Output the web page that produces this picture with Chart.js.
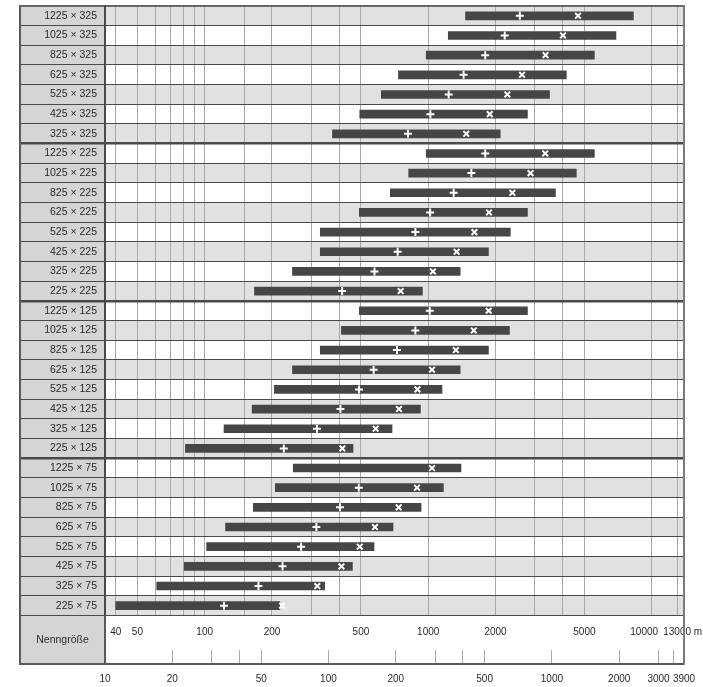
<!DOCTYPE html>
<html>
<head>
<meta charset="utf-8">
<script src="https://cdn.jsdelivr.net/npm/chart.js@4/dist/chart.umd.min.js"></script>
<style>
  html, body { margin: 0; padding: 0; background: #fff; }
  canvas { display: block; }
</style>
</head>
<body>
<canvas id="c" width="703" height="687"></canvas>
<script>
// Rows: cross-section (width × height), top to bottom
const rowLabels = [
  '1225 × 325', '1025 × 325', '825 × 325', '625 × 325', '525 × 325', '425 × 325', '325 × 325',
  '1225 × 225', '1025 × 225', '825 × 225', '625 × 225', '525 × 225', '425 × 225', '325 × 225', '225 × 225',
  '1225 × 125', '1025 × 125', '825 × 125', '625 × 125', '525 × 125', '425 × 125', '325 × 125', '225 × 125',
  '1225 × 75', '1025 × 75', '825 × 75', '625 × 75', '525 × 75', '425 × 75', '325 × 75', '225 × 75'
];
// first row of each height group (thicker separator above it)
const groupStarts = [7, 15, 23];

// range of each row (Nenngröße, m)
const rangeStart = [
  1470, 1230, 980, 736, 617, 494, 373,
  980, 818, 677, 492, 329, 329, 247, 167,
  492, 409, 329, 247, 205, 163, 122, 82,
  249, 207, 165, 124, 102, 81, 61, 40
];
const rangeEnd = [
  8280, 6920, 5540, 4150, 3490, 2780, 2100,
  5540, 4600, 3710, 2780, 2330, 1860, 1390, 942,
  2780, 2310, 1860, 1390, 1153, 923, 689, 461,
  1402, 1169, 929, 696, 572, 458, 344, 217
];
// "+" marker values
const plusValues = [
  2570, 2200, 1800, 1440, 1235, 1023, 812,
  1800, 1560, 1300, 1020, 876, 730, 575, 412,
  1016, 876, 725, 570, 490, 405, 318, 226,
  null, 489, 403, 316, 270, 223, 174, 122
];
// "×" marker values
const crossValues = [
  4680, 4010, 3350, 2630, 2260, 1885, 1480,
  3340, 2870, 2380, 1870, 1610, 1340, 1050, 753,
  1865, 1600, 1330, 1040, 895, 740, 582, 413,
  1040, 891, 738, 578, 494, 409, 319, 222
];

// upper scale (Nenngröße, m)
const topMin = 35.8, topMax = 13950;
const topGrid = [40, 50, 60, 70, 80, 90, 100, 150, 200, 300, 400, 500, 1000, 2000, 3000, 4000, 5000, 10000, 13000];
const topLabels = [40, 50, 100, 200, 500, 1000, 2000, 5000, 10000, 13000];
// lower scale
const bottomMin = 10, bottomMax = 3900;
const bottomGrid = [10, 20, 30, 40, 50, 100, 200, 300, 400, 500, 1000, 2000, 3000, 3500, 3900];
const bottomLabels = [10, 20, 50, 100, 200, 500, 1000, 2000, 3000, 3900];

const FONT = 'Liberation Sans, Arial, Helvetica, sans-serif';
Chart.defaults.font.family = FONT;
Chart.defaults.font.size = 10.5;
Chart.defaults.color = '#2a2a2a';

const FRAME = { left: 20, bottom: 664 };

// keep the plot area fixed: no extra room reserved for edge labels
const noEdgePadding = s => {
  s.paddingLeft = 0; s.paddingRight = 0; s.paddingTop = 0; s.paddingBottom = 0;
};

// row shading and label column, drawn underneath the grid
const backdrop = {
  id: 'backdrop',
  beforeDraw(chart) {
    const { ctx, chartArea: ca, scales: { y } } = chart;
    const rowH = (y.bottom - y.top) / rowLabels.length;
    ctx.save();
    ctx.fillStyle = '#d5d5d5';
    ctx.fillRect(FRAME.left, ca.top, ca.left - FRAME.left, FRAME.bottom - ca.top);
    ctx.fillStyle = '#e1e1e1';
    rowLabels.forEach((_, i) => {
      if (i % 2 === 0) {
        const c = y.getPixelForValue(i);
        ctx.fillRect(ca.left, c - rowH / 2, ca.right - ca.left, rowH);
      }
    });
    ctx.restore();
  },
  afterDraw(chart) {
    const { ctx, chartArea: ca, scales: { x } } = chart;
    ctx.save();
    // outer frame and the header cell divider
    ctx.strokeStyle = '#5a5a5a';
    ctx.lineWidth = 2;
    ctx.beginPath();
    ctx.moveTo(FRAME.left, ca.top - 1);
    ctx.lineTo(FRAME.left, FRAME.bottom);
    ctx.lineTo(ca.right, FRAME.bottom);
    ctx.moveTo(ca.left, ca.bottom);
    ctx.lineTo(ca.left, FRAME.bottom);
    ctx.stroke();
    ctx.strokeStyle = '#7a7a7a';
    ctx.beginPath();
    ctx.moveTo(ca.right, ca.top - 1);
    ctx.lineTo(ca.right, FRAME.bottom + 1);
    ctx.stroke();
    // header cell text
    ctx.font = '10.5px ' + FONT;
    ctx.fillStyle = '#2a2a2a';
    ctx.textAlign = 'center';
    ctx.textBaseline = 'middle';
    ctx.fillText('Nenngröße', (FRAME.left + ca.left) / 2, (ca.bottom + FRAME.bottom) / 2);
    // unit after the last upper label
    const item = x.getLabelItems().find(it => it.label === '13000');
    if (item) {
      const [tx, ty] = item.options.translation;
      ctx.font = '10px ' + FONT;
      ctx.textAlign = 'left';
      ctx.textBaseline = item.options.textBaseline;
      const w = ctx.measureText('13000').width / 2 + ctx.measureText(' ').width;
      ctx.fillText('m', tx + w, ty + (item.textOffset || 0));
    }
    ctx.restore();
  }
};

const toPoints = vals => vals
  .map((v, i) => (v == null ? null : { x: v, y: rowLabels[i] }))
  .filter(Boolean);

new Chart(document.getElementById('c'), {
  data: {
    labels: rowLabels,
    datasets: [
      {
        type: 'scatter', order: 0, xAxisID: 'x', yAxisID: 'y',
        data: toPoints(plusValues),
        pointStyle: 'cross', pointRadius: 4, pointHoverRadius: 4,
        pointBorderColor: '#ffffff', pointBorderWidth: 2
      },
      {
        type: 'scatter', order: 0, xAxisID: 'x', yAxisID: 'y',
        data: toPoints(crossValues),
        pointStyle: 'crossRot', pointRadius: 4, pointHoverRadius: 4,
        pointBorderColor: '#ffffff', pointBorderWidth: 2
      },
      {
        type: 'bar', order: 1, indexAxis: 'y', xAxisID: 'x', yAxisID: 'y',
        data: rangeStart.map((s, i) => [s, rangeEnd[i]]),
        backgroundColor: '#464646', borderWidth: 0, borderSkipped: false,
        barThickness: 8
      }
    ]
  },
  options: {
    responsive: false,
    animation: false,
    events: [],
    indexAxis: 'y',
    layout: { padding: { left: 0, right: 19, top: 4, bottom: 0 } },
    plugins: { legend: { display: false }, tooltip: { enabled: false } },
    scales: {
      x: {
        type: 'logarithmic', position: 'bottom', weight: 0,
        min: topMin, max: topMax,
        afterBuildTicks: s => { s.ticks = topGrid.map(v => ({ value: v })); },
        afterFit: s => { s.height = 34; noEdgePadding(s); },
        grid: { color: '#a9a9a9', lineWidth: 1, drawTicks: false },
        border: { display: false },
        ticks: {
          autoSkip: false, maxRotation: 0, padding: 11, font: { size: 10 },
          // "10000" sits a little left of its line so it clears "13000"
          callback: v => (topLabels.includes(v) ? String(v) + (v === 10000 ? '\u2002\u2002\u2002' : '') : '')
        }
      },
      x2: {
        type: 'logarithmic', position: 'bottom', weight: 1,
        min: bottomMin, max: bottomMax,
        afterBuildTicks: s => { s.ticks = bottomGrid.map(v => ({ value: v })); },
        afterFit: s => { s.height = 37.5; noEdgePadding(s); },
        grid: { drawOnChartArea: false, drawTicks: true, tickLength: 14, color: '#a9a9a9', lineWidth: 1 },
        border: { display: false },
        ticks: {
          autoSkip: false, maxRotation: 0, padding: 10, font: { size: 10 },
          callback: v => (bottomLabels.includes(v) ? String(v) : '')
        }
      },
      y: {
        type: 'category', position: 'left', offset: true,
        afterFit: s => { s.width = 105; noEdgePadding(s); },
        grid: {
          offset: true, drawTicks: true, tickLength: 85,
          color: ctx => (ctx.index === 0 ? '#666666' : '#4a4a4a'),
          lineWidth: ctx => {
            if (ctx.index === 0) return 2;
            if (groupStarts.includes(ctx.index) || ctx.index === rowLabels.length) return 2.5;
            return 1;
          }
        },
        border: { display: true, color: '#4a4a4a', width: 2 },
        ticks: { padding: -77, autoSkip: false, color: '#2a2a2a' }
      }
    }
  },
  plugins: [backdrop]
});
</script>
</body>
</html>
